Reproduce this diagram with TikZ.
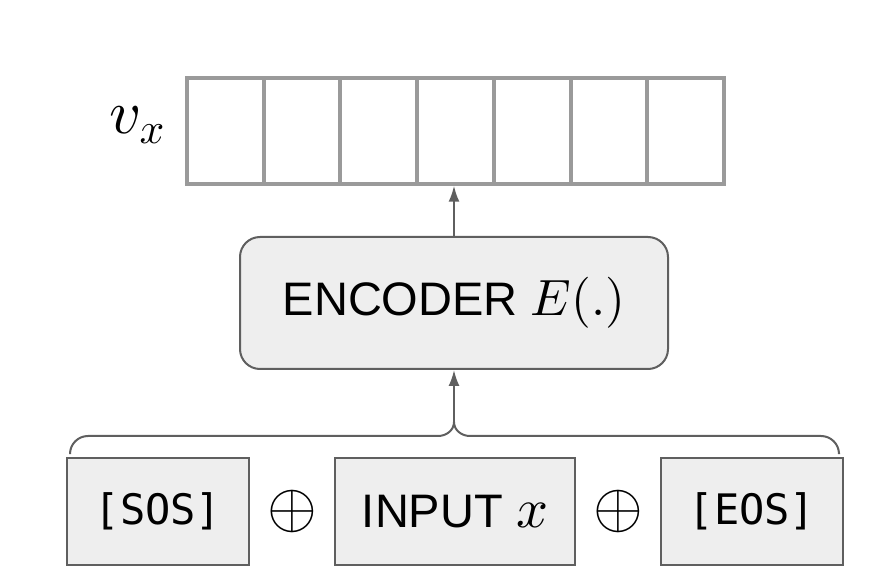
\RequirePackage{fix-cm}
\documentclass[tikz,border=0pt]{standalone}
\usepackage[no-math]{fontspec}
\setmainfont{Liberation Sans}
\setmonofont{DejaVu Sans Mono}
\usetikzlibrary{arrows.meta,positioning,calc}
\DeclareFontShape{OML}{cmm}{m}{it}{<->cmmi10}{}
\DeclareFontShape{OMS}{cmsy}{m}{n}{<->cmsy10}{}
\DeclareFontShape{OT1}{cmr}{m}{n}{<->cmr10}{}
\definecolor{Ash}{HTML}{5F5F5F}
\definecolor{Silver}{HTML}{9A9A9A}
\definecolor{Mist}{HTML}{EEEEEE}
\colorlet{vecLine}{Silver}
\colorlet{boxLine}{Ash}
\colorlet{boxFill}{Mist}

\begin{document}
\begin{tikzpicture}[x=1pt,y=-1pt,
 cell/.style={draw=vecLine,line width=4pt,minimum width=76.7pt,minimum height=106pt,
   inner sep=0pt,outer sep=0pt},
 enc/.style={draw=boxLine,line width=2pt,fill=boxFill,rounded corners=20pt,
   minimum width=428pt,minimum height=132pt,inner sep=0pt,font=\fontsize{47}{52}\selectfont},
 tok/.style={draw=boxLine,line width=2pt,fill=boxFill,minimum height=107pt,
   inner sep=0pt,outer sep=0pt},
 tag/.style={tok,minimum width=182pt,font=\fontsize{42}{46}\ttfamily},
 sym/.style={inner sep=0pt,font=\fontsize{64}{70}\selectfont},
 arr/.style={-{Latex[length=16pt,width=11pt]},line width=2pt,boxLine},
 link/.style={line width=2pt,boxLine}]
 \useasboundingbox (0,0) rectangle (871,577);
 \node[cell] (c1) at (225.4,131.2) {};
 \node[cell,right=0pt of c1] (c2) {};
 \node[cell,right=0pt of c2] (c3) {};
 \node[cell,right=0pt of c3] (c4) {};
 \node[cell,right=0pt of c4] (c5) {};
 \node[cell,right=0pt of c5] (c6) {};
 \node[cell,right=0pt of c6] (c7) {};
 \node[inner sep=0pt,left=22pt of c1,yshift=6pt,font=\fontsize{62}{68}\selectfont] (vx) {$v_x$};
 \node[enc] (enc) at (454,303) {ENCODER {\fontsize{51}{56}\selectfont$E(.)$}};
 \node[tag] (sos) at (158,511.5) {[SOS]\hspace{8pt}};
 \node[tok,minimum width=240pt,right=86pt of sos,font=\fontsize{47}{52}\selectfont] (inp)
   {INPUT {\fontsize{56}{60}\selectfont$x$}};
 \node[tag,right=86pt of inp] (eos) {[EOS]\hspace{8pt}};
 \node[sym] (op1) at ($(sos.east)!.5!(inp.west)$) {$\oplus$};
 \node[sym] (op2) at ($(inp.east)!.5!(eos.west)$) {$\oplus$};
 \coordinate (cusp) at ($(enc.south)+(0,52)$);
 \coordinate (bl) at ($(sos.north west)+(3,-5)$);
 \coordinate (br) at ($(eos.north east)+(-4,-5)$);
 \draw[link] (cusp) to[out=-90,in=0] ($(cusp)+(-16,14)$) [rounded corners=18pt] -| (bl);
 \draw[link] (cusp) to[out=-90,in=180] ($(cusp)+(16,14)$) [rounded corners=18pt] -| (br);
 \draw[arr] (cusp) -- (enc.south);
 \draw[arr,shorten >=1.5pt] (enc.north) -- (enc.north |- c4.south);
\end{tikzpicture}
\end{document}
